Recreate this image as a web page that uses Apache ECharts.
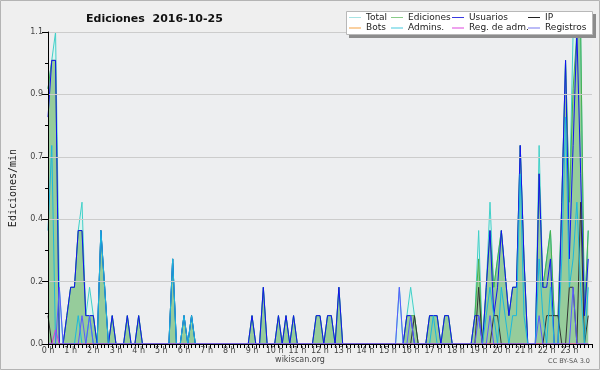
<!DOCTYPE html>
<html><head><meta charset="utf-8">
<script src="https://cdn.jsdelivr.net/npm/echarts@6/dist/echarts.min.js"></script>
<style>html,body{margin:0;padding:0;background:#efefef}#c{width:600px;height:370px}</style>
</head><body><div id="c"></div>
<script>
// hour tick labels (one slot = 10 minutes, 6 slots per hour)
const tickLabels = ['0 h','1 h','2 h','3 h','4 h','5 h','6 h','7 h','8 h','9 h','10 h','11 h',
  '12 h','13 h','14 h','15 h','16 h','17 h','18 h','19 h','20 h','21 h','22 h','23 h'];
const yTicks = [0, 0.22, 0.44, 0.66, 0.88, 1.1];

const total = [
 0.9,1.0,1.1,0.2,0,0.1,  0.2,0.2,0.4,0.5,0.1,0.2,  0.1,0,0.4,0.2,0,0.1,  0,0,0,0.1,0,0,
 0.1,0,0,0,0,0,  0,0,0,0.3,0,0,  0.1,0,0.1,0,0,0,  0,0,0,0,0,0,
 0,0,0,0,0,0,  0.1,0,0,0.2,0,0,  0,0.1,0,0.1,0,0.1,  0,0,0,0,0,0.1,
 0.1,0,0.1,0.1,0,0.2,  0,0,0,0,0,0,  0,0,0,0,0,0,  0,0,0,0.2,0,0.1,
 0.2,0.1,0,0,0,0.1,  0.1,0.1,0,0.1,0.1,0,  0,0,0,0,0,0.1,  0.4,0,0.2,0.5,0.2,0.3,
 0.4,0.25,0.1,0.2,0.2,0.7,  0.3,0,0,0,0.7,0.2,  0.3,0.4,0.1,0.1,0.5,1.0,  0.5,1.1,1.2,1.1,0.1,0.4
];
const ediciones = [
 0.9,1.0,1.0,0,0,0.1,  0.2,0.2,0.4,0.4,0.1,0.1,  0.1,0,0.4,0.2,0,0.1,  0,0,0,0.1,0,0,
 0.1,0,0,0,0,0,  0,0,0,0.3,0,0,  0.1,0,0.1,0,0,0,  0,0,0,0,0,0,
 0,0,0,0,0,0,  0.1,0,0,0.2,0,0,  0,0.1,0,0.1,0,0.1,  0,0,0,0,0,0.1,
 0.1,0,0.1,0.1,0,0.2,  0,0,0,0,0,0,  0,0,0,0,0,0,  0,0,0,0,0,0.1,
 0.1,0.1,0,0,0,0.1,  0.1,0.1,0,0.1,0.1,0,  0,0,0,0,0,0.1,  0.3,0,0.2,0.4,0.2,0.3,
 0.4,0.25,0.1,0.2,0.2,0.7,  0.3,0,0,0,0.6,0.2,  0.3,0.4,0.1,0.1,0.5,1.0,  0.5,0.9,1.1,1.1,0.1,0.4
];
const usuarios = [
 0.8,1.0,1.0,0,0,0.1,  0.2,0.2,0.4,0.4,0.1,0.1,  0.1,0,0.4,0.2,0,0.1,  0,0,0,0.1,0,0,
 0.1,0,0,0,0,0,  0,0,0,0.3,0,0,  0.1,0,0.1,0,0,0,  0,0,0,0,0,0,
 0,0,0,0,0,0,  0.1,0,0,0.2,0,0,  0,0.1,0,0.1,0,0.1,  0,0,0,0,0,0.1,
 0.1,0,0.1,0.1,0,0.2,  0,0,0,0,0,0,  0,0,0,0,0,0,  0,0,0,0,0,0.1,
 0.1,0,0,0,0,0.1,  0.1,0.1,0,0.1,0.1,0,  0,0,0,0,0,0.1,  0.1,0,0.2,0.4,0.1,0.2,
 0.4,0.25,0.1,0.2,0.2,0.7,  0.3,0,0,0,0.6,0.2,  0.2,0.3,0,0,0.5,1.0,  0.3,0.7,1.1,0.6,0.1,0.3
];
const ip = [
 0.1,0,0,0,0,0,  0,0,0,0,0,0,  0,0,0,0,0,0,  0,0,0,0,0,0,
 0,0,0,0,0,0,  0,0,0,0,0,0,  0,0,0,0,0,0,  0,0,0,0,0,0,
 0,0,0,0,0,0,  0,0,0,0,0,0,  0,0,0,0,0,0,  0,0,0,0,0,0,
 0,0,0,0,0,0,  0,0,0,0,0,0,  0,0,0,0,0,0,  0,0,0,0,0,0,
 0,0.1,0,0,0,0,  0,0,0,0,0,0,  0,0,0,0,0,0,  0.2,0,0,0,0.1,0.1,
 0,0,0,0,0,0,  0,0,0,0,0,0,  0.1,0.1,0.1,0.1,0,0,  0.2,0.2,0,0.5,0,0.1
];
const bots = [
 0,0,0,0,0,0,  0,0,0,0,0,0,  0,0,0,0,0,0,  0,0,0,0,0,0,
 0,0,0,0,0,0,  0,0,0,0,0,0,  0,0,0,0,0,0,  0,0,0,0,0,0,
 0,0,0,0,0,0,  0,0,0,0,0,0,  0,0,0,0,0,0,  0,0,0,0,0,0,
 0,0,0,0,0,0,  0,0,0,0,0,0,  0,0,0,0,0,0,  0,0,0,0,0,0,
 0,0,0,0,0,0,  0,0,0,0,0,0,  0,0,0,0,0,0,  0,0,0,0,0,0,
 0,0,0,0,0,0,  0,0,0,0,0,0,  0,0,0,0,0,0,  0,0,0,0,0,0
];
const admins = [
 0.4,0.7,0,0,0,0,  0,0,0.1,0,0,0.1,  0,0,0.4,0.2,0,0,  0,0,0,0,0,0,
 0,0,0,0,0,0,  0,0,0,0.3,0,0,  0.1,0,0.1,0,0,0,  0,0,0,0,0,0,
 0,0,0,0,0,0,  0,0,0,0,0,0,  0,0,0,0,0,0,  0,0,0,0,0,0,
 0,0,0,0,0,0,  0,0,0,0,0,0,  0,0,0,0,0,0,  0,0,0,0,0,0,
 0,0,0,0,0,0,  0.1,0,0,0,0,0,  0,0,0,0,0,0,  0,0,0.1,0.2,0.1,0,
 0.2,0.1,0,0.1,0.1,0.6,  0.1,0,0,0,0.3,0.1,  0,0.2,0,0,0.3,0.8,  0.2,0.3,0.5,0.2,0,0.2
];
const regAdm = [
 0,0,0.05,0,0,0,  0,0,0,0,0,0,  0,0,0,0,0,0,  0,0,0,0,0,0,
 0,0,0,0,0,0,  0,0,0,0,0,0,  0,0,0,0,0,0,  0,0,0,0,0,0,
 0,0,0,0,0,0,  0,0,0,0,0,0,  0,0,0,0,0,0,  0,0,0,0,0,0,
 0,0,0,0,0,0,  0,0,0,0,0,0,  0,0,0,0,0,0,  0,0,0,0,0,0,
 0,0,0,0,0,0,  0,0,0,0,0,0,  0,0,0,0,0,0,  0,0,0,0,0,0,
 0,0,0,0,0,0,  0,0,0,0,0,0,  0,0,0,0,0,0,  0,0,0,0,0,0
];
const registros = [
 0,0,0,0.2,0,0,  0,0,0,0.1,0,0.1,  0,0,0,0,0,0,  0,0,0,0,0,0,
 0,0,0,0,0,0,  0,0,0,0,0,0,  0,0,0,0,0,0,  0,0,0,0,0,0,
 0,0,0,0,0,0,  0,0,0,0,0,0,  0,0,0,0,0,0,  0,0,0,0,0,0,
 0,0,0,0,0,0,  0,0,0,0,0,0,  0,0,0,0,0,0,  0,0,0,0.2,0,0,
 0.1,0,0,0,0,0,  0,0,0,0,0,0,  0,0,0,0,0,0,  0.1,0,0,0.1,0,0,
 0,0,0,0,0,0,  0,0,0,0,0.1,0,  0,0,0,0,0,0,  0,0.2,0,0,0,0
];

const font = 'DejaVu Sans';
const defs = [
  {name:'Total', data:total, color:'#40d0c8', area:'#ddf3f0', legend:'#a8e4e4', left:349, top:13},
  {name:'Ediciones', data:ediciones, color:'#48b04c', area:'#96cc9b', legend:'#88cc88', left:391, top:13},
  {name:'Usuarios', data:usuarios, color:'#1212f0', legend:'#3838e0', left:452, top:13},
  {name:'IP', data:ip, color:'#333333', legend:'#222222', left:528, top:13},
  {name:'Bots', data:bots, color:'#ff9933', legend:'#f5a040', left:349, top:23.5},
  {name:'Admins.', data:admins, color:'#1cb8dc', legend:'#44c8dc', left:391, top:23.5},
  {name:'Reg. de adm.', data:regAdm, color:'#dd33dd', legend:'#dd44dd', left:452, top:23.5},
  {name:'Registros', data:registros, color:'#5a5aff', legend:'#7777ee', left:528, top:23.5}
];

const chart = echarts.init(document.getElementById('c'), null, {renderer:'canvas'});
chart.setOption({
  animation:false,
  backgroundColor:'#efefef',
  title:{text:'Ediciones  2016-10-25', left:81, top:9,
    textStyle:{fontFamily:font, fontWeight:'bold', fontSize:11, color:'#111'}},
  legend: defs.map(d => ({
    data:[{name:d.name, itemStyle:{color:d.legend}}],
    left:d.left, top:d.top, icon:'rect', itemWidth:12, itemHeight:1, padding:0,
    selectedMode:false, z:12,
    textStyle:{fontFamily:font, fontSize:9, color:'#222'}
  })),
  grid:{left:46, right:8, top:32, bottom:26, show:true, backgroundColor:'#edeef0', borderWidth:0},
  xAxis:{type:'value', min:0, max:144, interval:6, z:10,
    axisLine:{show:true, lineStyle:{color:'#000', width:1}},
    axisTick:{show:true, length:4, lineStyle:{color:'#000'}},
    minorTick:{show:true, splitNumber:6, length:4, lineStyle:{color:'#000'}},
    splitLine:{show:false},
    axisLabel:{margin:3, fontFamily:font, fontSize:8, color:'#444',
      formatter:v => tickLabels[Math.round(v/6)] || ''}},
  yAxis:{type:'value', min:0, max:1.1, interval:0.22, z:10,
    name:'Ediciones/min', nameLocation:'middle', nameGap:30,
    nameTextStyle:{fontFamily:'DejaVu Sans Mono', fontSize:10, color:'#222'},
    axisLine:{show:true, lineStyle:{color:'#000', width:1}},
    axisTick:{show:true, length:6, lineStyle:{color:'#000'}},
    minorTick:{show:true, splitNumber:2, length:3, lineStyle:{color:'#000'}},
    splitLine:{show:true, lineStyle:{color:'#cccccc', width:1}},
    axisLabel:{margin:5, fontFamily:font, fontSize:8, color:'#444',
      formatter:v => v.toFixed(1)}},
  series: defs.map(d => ({
    name:d.name, type:'line', data:d.data.map((v,i)=>[i,v]),
    symbol:'none', showSymbol:false, smooth:false,
    lineStyle:{color:d.color, width:1},
    itemStyle:{color:d.color},
    areaStyle: d.area ? {color:d.area, opacity:1} : undefined,
    emphasis:{disabled:true}
  })),
  graphic:[
    {type:'rect', z:10, shape:{x:349, y:14, width:247, height:24}, style:{fill:'#8c8c8c'}},
    {type:'rect', z:11, shape:{x:346.5, y:11.5, width:246, height:23}, style:{fill:'#ffffff', stroke:'#b8b8b8', lineWidth:1}},
    {type:'text', z:11, left:'center', top:356, style:{text:'wikiscan.org', font:'8px "DejaVu Sans"', fill:'#444'}},
    {type:'text', z:11, right:10, top:358, style:{text:'CC BY-SA 3.0', font:'6.5px "DejaVu Sans"', fill:'#555'}},
    {type:'rect', z:20, shape:{x:0.5, y:0.5, width:599, height:369}, style:{fill:'none', stroke:'#b4b4b4', lineWidth:1}}
  ]
});
</script></body></html>
